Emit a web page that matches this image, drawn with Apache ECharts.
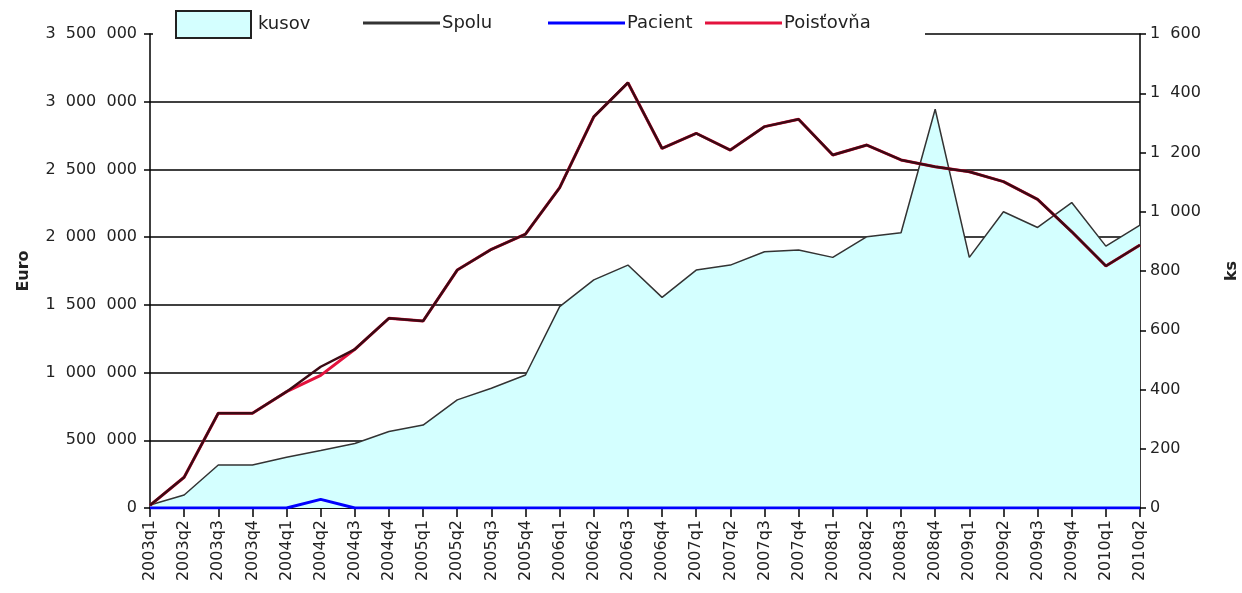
<!DOCTYPE html>
<html>
<head>
<meta charset="utf-8">
<script src="https://cdn.jsdelivr.net/npm/echarts@6/dist/echarts.min.js"></script>
<style>
html, body { margin: 0; padding: 0; background: #fff; }
#main { width: 1242px; height: 593px; }
</style>
</head>
<body>
<div id="main"></div>
<script>
var categories = ['2003q1', '2003q2', '2003q3', '2003q4', '2004q1', '2004q2', '2004q3', '2004q4',
	'2005q1', '2005q2', '2005q3', '2005q4', '2006q1', '2006q2', '2006q3', '2006q4',
	'2007q1', '2007q2', '2007q3', '2007q4', '2008q1', '2008q2', '2008q3', '2008q4',
	'2009q1', '2009q2', '2009q3', '2009q4', '2010q1', '2010q2'];

// kusy (prava os)
var kusov = [10, 44, 145, 145, 171, 194, 218, 258, 280, 365, 404, 449, 680, 770, 820, 711,
	803, 820, 865, 871, 846, 916, 929, 1346, 846, 1000, 947, 1031, 884, 955];

// eura (lava os)
var spolu = [20000, 227000, 700000, 700000, 859000, 1043000, 1172000, 1401000, 1381000, 1757000,
	1910000, 2023000, 2365000, 2889000, 3140000, 2655000, 2767000, 2643000, 2816000, 2870000,
	2607000, 2680000, 2570000, 2520000, 2483000, 2410000, 2279000, 2040000, 1787000, 1942000];
var pacient = [0, 0, 0, 0, 0, 64000, 0, 0, 0, 0, 0, 0, 0, 0, 0, 0,
	0, 0, 0, 0, 0, 0, 0, 0, 0, 0, 0, 0, 0, 0];
var poistovna = [20000, 227000, 700000, 700000, 859000, 979000, 1172000, 1401000, 1381000, 1757000,
	1910000, 2023000, 2365000, 2889000, 3140000, 2655000, 2767000, 2643000, 2816000, 2870000,
	2607000, 2680000, 2570000, 2520000, 2483000, 2410000, 2279000, 2040000, 1787000, 1942000];

var leftTicks = [0, 500000, 1000000, 1500000, 2000000, 2500000, 3000000, 3500000];
var rightTicks = [0, 200, 400, 600, 800, 1000, 1200, 1400, 1600];

var FONT = 'DejaVu Sans';

function fmt(v) {
	// medzera ako oddelovac tisicov
	return String(v).replace(/\B(?=(\d{3})+(?!\d))/g, '\u2007');
}

function lineLegend(name, left, color) {
	return {
		data: [{ name: name, icon: 'rect', itemStyle: { color: color } }],
		left: left,
		top: 14,
		itemWidth: 77,
		itemHeight: 3,
		itemGap: 0,
		padding: 0,
		z: 200,
		textStyle: { fontFamily: FONT, fontSize: 18, color: '#222', padding: [0, 0, 0, -3] },
		selectedMode: false
	};
}

var option = {
	animation: false,
	backgroundColor: '#fff',
	grid: { left: 150, right: 102, top: 34, bottom: 85, outerBoundsMode: 'none', containLabel: false },
	graphic: {
		z: 100,
		elements: [{
			type: 'rect',
			shape: { x: 153, y: 4, width: 772, height: 36 },
			style: { fill: '#fff' },
			z: 100
		}]
	},
	legend: [{
		data: [{ name: 'kusov', icon: 'rect' }],
		left: 175,
		top: 10,
		itemWidth: 75,
		itemHeight: 27,
		padding: 0,
		z: 200,
		textStyle: { fontFamily: FONT, fontSize: 18, color: '#222', padding: [0, 0, 0, 2] },
		selectedMode: false
	},
		lineLegend('Spolu', 363, '#333'),
		lineLegend('Pacient', 548, '#0000ff'),
		lineLegend('Poisťovňa', 705, '#e3123d')
	],
	xAxis: [{
		type: 'category',
		data: categories,
		boundaryGap: false,
		axisLine: { lineStyle: { color: '#000', width: 1.5 } },
		axisTick: { alignWithLabel: true, length: 9, lineStyle: { color: '#000', width: 1.5 } },
		axisLabel: { rotate: 90, interval: 0, margin: 12, fontFamily: FONT, fontSize: 16, color: '#222' }
	}],
	yAxis: [{
		type: 'value',
		min: leftTicks[0],
		max: leftTicks[leftTicks.length - 1],
		interval: leftTicks[1] - leftTicks[0],
		name: 'Euro',
		nameLocation: 'middle',
		nameRotate: 90,
		nameGap: 118,
		nameTextStyle: { fontFamily: FONT, fontSize: 16, fontWeight: 'bold', color: '#222' },
		axisLine: { show: true, lineStyle: { color: '#000', width: 1.5 } },
		axisTick: { show: true, length: 6, lineStyle: { color: '#000', width: 1.5 } },
		axisLabel: { margin: 13, fontFamily: FONT, fontSize: 16, color: '#222', formatter: fmt },
		splitLine: { show: true, lineStyle: { color: '#000', width: 1.5 } }
	}, {
		type: 'value',
		position: 'right',
		min: rightTicks[0],
		max: rightTicks[rightTicks.length - 1],
		interval: rightTicks[1] - rightTicks[0],
		name: 'ks',
		nameLocation: 'middle',
		nameRotate: 90,
		nameGap: 84,
		nameTextStyle: { fontFamily: FONT, fontSize: 16, fontWeight: 'bold', color: '#222' },
		axisLine: { show: true, lineStyle: { color: '#000', width: 1.5 } },
		axisTick: { show: true, length: 6, lineStyle: { color: '#000', width: 1.5 } },
		axisLabel: { margin: 10, fontFamily: FONT, fontSize: 16, color: '#222', formatter: fmt },
		splitLine: { show: false }
	}],
	series: [{
		name: 'kusov',
		type: 'line',
		yAxisIndex: 1,
		data: kusov,
		symbol: 'none',
		z: 1,
		itemStyle: { color: '#d4ffff', borderColor: '#222', borderWidth: 1.5 },
		lineStyle: { color: '#333', width: 1.5 },
		areaStyle: { color: '#d4ffff', opacity: 1 }
	}, {
		name: 'Poisťovňa',
		type: 'line',
		data: poistovna,
		symbol: 'none',
		z: 3,
		itemStyle: { color: '#e3123d' },
		lineStyle: { color: '#e3123d', width: 3 }
	}, {
		name: 'Pacient',
		type: 'line',
		data: pacient,
		symbol: 'none',
		z: 4,
		itemStyle: { color: '#0000ff' },
		lineStyle: { color: '#0000ff', width: 3 }
	}, {
		name: 'Spolu',
		type: 'line',
		data: spolu,
		symbol: 'none',
		z: 5,
		itemStyle: { color: '#3c0a14' },
		lineStyle: { color: '#3c0a14', width: 2.5 }
	}]
};

echarts.init(document.getElementById('main')).setOption(option);
</script>
</body>
</html>
